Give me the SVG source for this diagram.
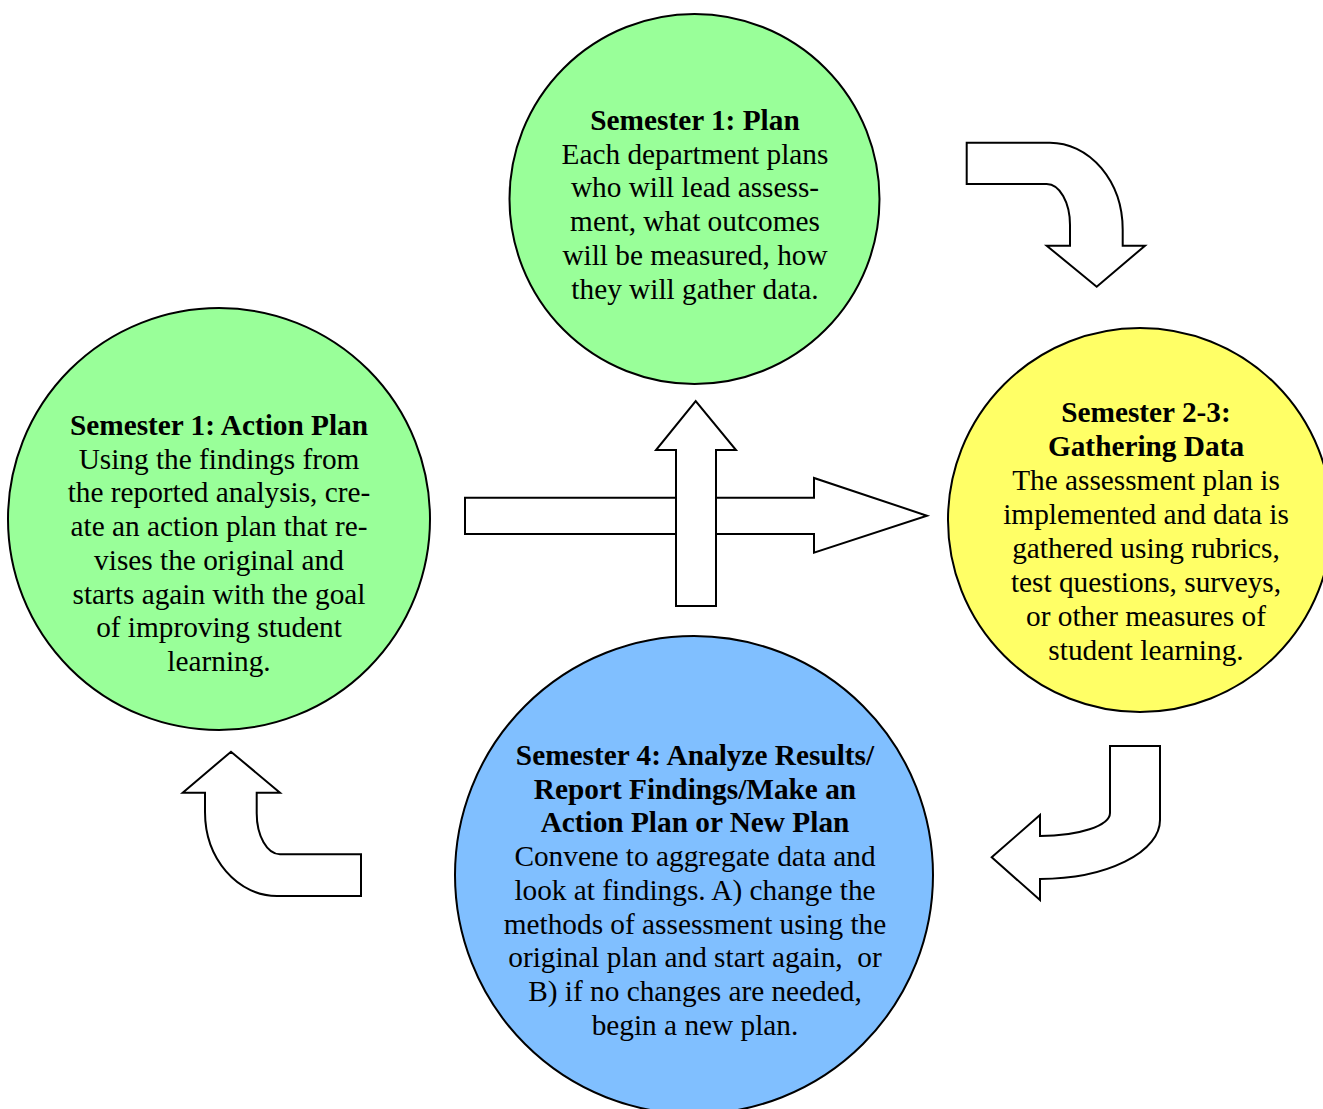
<svg xmlns="http://www.w3.org/2000/svg" width="1323" height="1109" viewBox="0 0 1323 1109">
<style>
.node circle{stroke:#000;stroke-width:2}
.green{fill:#99FF99}
.yellow{fill:#FFFF66}
.blue{fill:#80BFFF}
text{font-family:"Liberation Serif","Times New Roman",serif;font-size:29.3px;fill:#000;text-anchor:middle}
.b{font-weight:bold}
.arrow{fill:#fff;stroke:#000;stroke-width:2;stroke-linejoin:miter}
</style>
<rect width="1323" height="1109" fill="#fff"/>
<g id="connectors">
<path class="arrow" d="M465,497.7 L814,497.7 L814,478 L927,515.7 L814,552.7 L814,534 L465,534 Z"/>
<path class="arrow" d="M676,606 L676,450 L656,450 L695.7,401 L736,450 L716,450 L716,606 Z"/>
<path class="arrow" d="M966.7,142.7 L1050,142.7 A72.7,87 0 0 1 1122.7,229.7 L1122.7,245.7 L1145,245.7 L1096.7,286.7 L1046.7,245.7 L1070,245.7 L1070,225 A23.3,41 0 0 0 1046.7,184 L966.7,184 Z"/>
<path class="arrow" d="M1110,746 L1160,746 L1160,820 A120,59 0 0 1 1040,879 L1040,900 L991.7,857.3 L1040,815 L1040,836 A70,23 0 0 0 1110,813 Z"/>
<path class="arrow" d="M361,854.3 L280,854.3 A23.3,41 0 0 1 256.7,813.3 L256.7,792.7 L280,792.7 L231,751.7 L182.7,792.7 L205,792.7 L205,812 A72,84 0 0 0 277,896 L361,896 Z"/>
</g>
<g id="node-plan" class="node">
<circle class="green" cx="694.5" cy="199" r="185"/>
<text x="695" y="130" class="b">Semester 1: Plan</text>
<text x="695" y="163.7">Each department plans</text>
<text x="695" y="197.4">who will lead assess-</text>
<text x="695" y="231.1">ment, what outcomes</text>
<text x="695" y="264.8">will be measured, how</text>
<text x="695" y="298.5">they will gather data.</text>
</g>
<g id="node-action" class="node">
<circle class="green" cx="219" cy="519" r="211"/>
<text x="219" y="435" class="b">Semester 1: Action Plan</text>
<text x="219" y="468.7">Using the findings from</text>
<text x="219" y="502.4">the reported analysis, cre-</text>
<text x="219" y="536.1">ate an action plan that re-</text>
<text x="219" y="569.8">vises the original and</text>
<text x="219" y="603.5">starts again with the goal</text>
<text x="219" y="637.2">of improving student</text>
<text x="219" y="670.9">learning.</text>
</g>
<g id="node-gather" class="node">
<circle class="yellow" cx="1140" cy="520" r="192"/>
<text x="1146" y="422" class="b">Semester 2-3:</text>
<text x="1146" y="456" class="b">Gathering Data</text>
<text x="1146" y="490">The assessment plan is</text>
<text x="1146" y="524">implemented and data is</text>
<text x="1146" y="558">gathered using rubrics,</text>
<text x="1146" y="592">test questions, surveys,</text>
<text x="1146" y="626">or other measures of</text>
<text x="1146" y="660">student learning.</text>
</g>
<g id="node-analyze" class="node">
<circle class="blue" cx="694" cy="875" r="239"/>
<text x="695" y="765" class="b">Semester 4: Analyze Results/</text>
<text x="695" y="798.7" class="b">Report Findings/Make an</text>
<text x="695" y="832.4" class="b">Action Plan or New Plan</text>
<text x="695" y="866.1">Convene to aggregate data and</text>
<text x="695" y="899.8">look at findings. A) change the</text>
<text x="695" y="933.5">methods of assessment using the</text>
<text x="695" y="967.2" xml:space="preserve">original plan and start again,  or</text>
<text x="695" y="1000.9">B) if no changes are needed,</text>
<text x="695" y="1034.6">begin a new plan.</text>
</g>
</svg>
